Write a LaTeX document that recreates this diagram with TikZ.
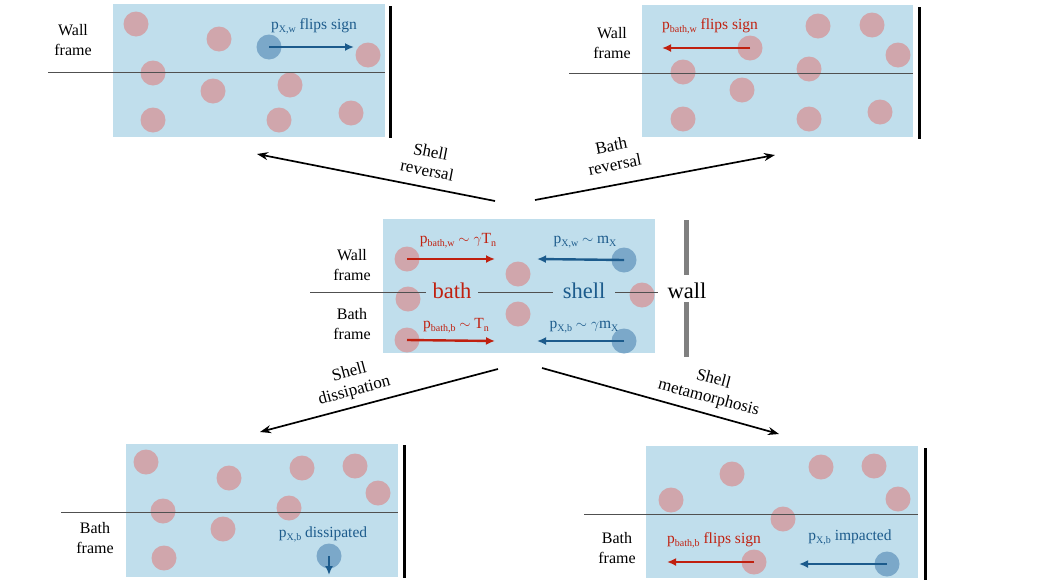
\documentclass[tikz,border=0pt]{standalone}
\usepackage{fontspec}
\setmainfont{Liberation Serif}
\usetikzlibrary{arrows.meta}
\definecolor{boxblue}{HTML}{C0DEEC}
\definecolor{pinkp}{HTML}{D0A6AC}
\definecolor{bluep}{HTML}{7BA8C9}
\definecolor{redt}{HTML}{C0200F}
\definecolor{bluet}{HTML}{1C5B8C}
\definecolor{wallgray}{HTML}{808080}
\definecolor{linegray}{HTML}{505050}
\newcommand\lsub[1]{\raisebox{-0.25em}{\fontsize{10}{10}\selectfont #1}}
\tikzset{
 panel/.style={fill=boxblue, draw=none},
 bpart/.style={circle, fill=pinkp, minimum size=25pt, inner sep=0pt},
 spart/.style={circle, fill=bluep, minimum size=25pt, inner sep=0pt},
 frameline/.style={draw=linegray, line width=0.9pt},
 wallline/.style={draw=black, line width=3pt},
 cwall/.style={draw=wallgray, line width=5pt},
 redarrow/.style={draw=redt, line width=2.4pt, -{Latex[length=9pt,width=8pt]}},
 bluearrow/.style={draw=bluet, line width=2.4pt, -{Latex[length=9pt,width=8pt]}},
 bigarrow/.style={draw=black, line width=1.7pt, -{Stealth[length=11pt,width=8pt]}},
 lbl/.style={font=\fontsize{16}{20}\selectfont, align=center, inner sep=0pt},
 alabel/.style={font=\fontsize{17}{19}\selectfont, align=center, inner sep=0pt},
 redlbl/.style={text=redt, font=\fontsize{15.5}{18}\selectfont, inner sep=0pt, anchor=base},
 bluelbl/.style={text=bluet, font=\fontsize{15.5}{18}\selectfont, inner sep=0pt, anchor=base},
 bigword/.style={font=\fontsize{22.5}{26}\selectfont, inner ysep=1pt, inner xsep=7pt, anchor=base},
}
\begin{document}
\begin{tikzpicture}[x=1pt,y=-1pt]
\useasboundingbox (0,0) rectangle (1038,584);

% ---------------- panels ----------------
\path[panel] (113,4) rectangle (385,137);
\path[panel] (642,5) rectangle (913,137);
\path[panel] (383,219) rectangle (655,353);
\path[panel] (126,444) rectangle (398,577);
\path[panel] (646,446) rectangle (918,578);

% ---------------- walls ----------------
\draw[wallline] (390,6) -- (390,138);
\draw[wallline] (919,7) -- (919,139);
\draw[wallline] (404,445) -- (404,578);
\draw[wallline] (925,448) -- (925,580);
\draw[cwall] (686,220) -- (686,275);
\draw[cwall] (686,302) -- (686,357);

% ---------------- particles: top left ----------------
\foreach \n/\x/\y in {a/136/24, b/219/39, c/153/73, d/213/91, e/290/85, f/153/120, g/279/120, h/351/113, i/368/55}
  \node[bpart] (tl\n) at (\x,\y) {};
\node[spart] (tlX) at (269,47) {};

% ---------------- particles: top right ----------------
\foreach \n/\x/\y in {a/818/26, b/872/25, c/898/55, e/683/72, f/809/69, g/742/90, h/683/119, i/809/119, j/880/112}
  \node[bpart] (tr\n) at (\x,\y) {};
\node[bpart] (trB) at (750,48) {};

% ---------------- particles: centre ----------------
\foreach \n/\x/\y in {b/518/274, c/408/299, d/518/314, e/642/295}
  \node[bpart] (c\n) at (\x,\y) {};
\node[bpart] (cBw) at (407,259) {};
\node[bpart] (cBb) at (407,340) {};
\node[spart] (cXw) at (624,260) {};
\node[spart] (cXb) at (624,341) {};

% ---------------- particles: bottom left ----------------
\foreach \n/\x/\y in {a/146/462, b/229/478, c/302/468, d/355/466, e/378/493, f/163/511, g/289/508, h/223/529, i/164/558}
  \node[bpart] (bl\n) at (\x,\y) {};
\node[spart] (blX) at (329,556) {};

% ---------------- particles: bottom right ----------------
\foreach \n/\x/\y in {a/732/474, b/821/467, c/874/466, d/671/500, e/898/499, f/783/519}
  \node[bpart] (br\n) at (\x,\y) {};
\node[bpart] (brB) at (754,562) {};
\node[spart] (brX) at (887,564) {};

% ---------------- frame lines ----------------
\coordinate (tlL) at (48,72);  \coordinate (tlR) at (385,72);
\coordinate (trL) at (569,73); \coordinate (trR) at (913,73);
\coordinate (cL) at (310,292); \coordinate (cR) at (658,292);
\coordinate (blL) at (61,512); \coordinate (blR) at (398,512);
\coordinate (brL) at (584,514); \coordinate (brR) at (918,514);
\draw[frameline] (tlL) -- (tlR);
\draw[frameline] (trL) -- (trR);
\draw[frameline] (cL) -- (cR);
\draw[frameline] (blL) -- (blR);
\draw[frameline] (brL) -- (brR);

% ---------------- frame labels ----------------
\node[lbl] (tlW) at (73,40.5) {Wall\\frame};
\node[lbl] (trW) at (612,43.5) {Wall\\frame};
\node[lbl] (cW) at (352,265.5) {Wall\\frame};
\node[lbl] (cB) at (352,324.5) {Bath\\frame};
\node[lbl] (blB) at (95,538.5) {Bath\\frame};
\node[lbl] (brBf) at (617,548.5) {Bath\\frame};

% ---------------- centre words ----------------
\node[bigword, text=redt, fill=boxblue] (bathw) at (452,298) {bath};
\node[bigword, text=bluet, fill=boxblue, inner xsep=10pt] (shellw) at (584,298) {shell};
\node[bigword, inner xsep=0pt] (wallw) at (687,298) {wall};

% ---------------- momentum labels ----------------
\node[bluelbl] (tlT) at (314,29) {p\lsub{X,w} flips sign};
\node[redlbl] (trT) at (710,29) {p\lsub{bath,w} flips sign};
\node[redlbl] (cT1) at (458,243) {p\lsub{bath,w} $\sim\gamma$T\lsub{n}};
\node[bluelbl] (cT2) at (585,243) {p\lsub{X,w} $\sim$ m\lsub{X}};
\node[redlbl] (cT3) at (456,328) {p\lsub{bath,b} $\sim$ T\lsub{n}};
\node[bluelbl] (cT4) at (584,328) {p\lsub{X,b} $\sim\gamma$m\lsub{X}};
\node[bluelbl] (blT) at (323,537) {p\lsub{X,b} dissipated};
\node[redlbl] (brT1) at (714,543) {p\lsub{bath,b} flips sign};
\node[bluelbl] (brT2) at (850,540) {p\lsub{X,b} impacted};

% ---------------- momentum arrows ----------------
\coordinate (tlXe) at (354,47);
\coordinate (trBe) at (662,48);
\coordinate (cBwe) at (495,259);
\coordinate (cBbe) at (495,341);
\coordinate (cXwe) at (537,259);
\coordinate (cXbe) at (537,341);
\coordinate (blXe) at (329,575);
\coordinate (brBe) at (667,562);
\coordinate (brXe) at (799,564);
\draw[bluearrow] (tlX.center) -- (tlXe);
\draw[redarrow] (trB.center) -- (trBe);
\draw[redarrow] (cBw.center) -- (cBwe);
\draw[redarrow] (cBb.center) -- (cBbe);
\draw[bluearrow] (cXw.center) -- (cXwe);
\draw[bluearrow] (cXb.center) -- (cXbe);
\draw[bluearrow] (blX.center) -- (blXe);
\draw[redarrow] (brB.center) -- (brBe);
\draw[bluearrow] (brX.center) -- (brXe);

% ---------------- process arrows ----------------
\coordinate (s1) at (495,201); \coordinate (e1) at (257,154);
\coordinate (s2) at (535,200); \coordinate (e2) at (775,155);
\coordinate (s3) at (498,369); \coordinate (e3) at (260,432);
\coordinate (s4) at (542,368); \coordinate (e4) at (779,434);
\draw[bigarrow] (s1) -- (e1);
\draw[bigarrow] (s2) -- (e2);
\draw[bigarrow] (s3) -- (e3);
\draw[bigarrow] (s4) -- (e4);
\node[alabel, rotate=-11] (l1) at (429,161) {Shell\\reversal};
\node[alabel, rotate=11] (l2) at (613,155) {Bath\\reversal};
\node[alabel, rotate=15] (l3) at (352,382) {Shell\\dissipation};
\node[alabel, rotate=-15] (l4) at (711,389) {Shell\\metamorphosis};
\end{tikzpicture}
\end{document}
